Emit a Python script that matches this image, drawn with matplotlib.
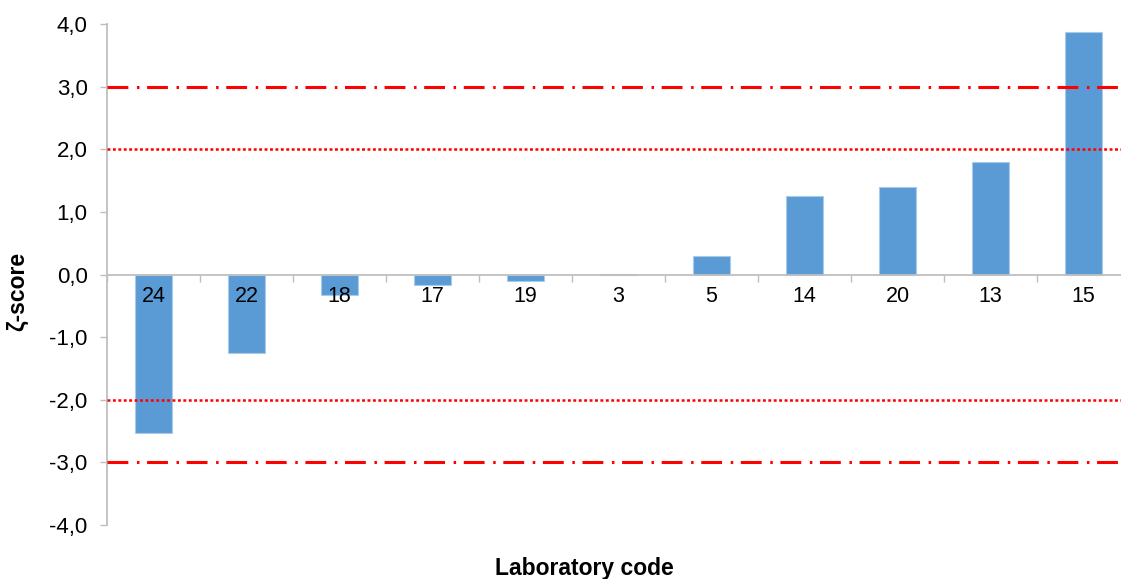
import matplotlib
matplotlib.use("Agg")
import matplotlib.pyplot as plt
import numpy as np

# zeta-scores per laboratory, sorted ascending
lab_codes = ["24", "22", "18", "17", "19", "3", "5", "14", "20", "13", "15"]
zeta = [-2.53, -1.25, -0.32, -0.16, -0.11, 0.01, 0.30, 1.26, 1.39, 1.80, 3.88]

warning_limits = [-2.0, 2.0]
action_limits = [-3.0, 3.0]
y_ticks = [-4, -3, -2, -1, 0, 1, 2, 3, 4]

plt.rcParams["font.family"] = ["Liberation Sans", "DejaVu Sans"]
plt.rcParams["lines.scale_dashes"] = False

fig = plt.figure(figsize=(11.21, 5.79), dpi=100)
ax = fig.add_axes([107 / 1121, 54 / 579, 1023 / 1121, 501 / 579])
ax.set_axisbelow(False)

x = np.arange(len(lab_codes))
ax.bar(x, zeta, width=0.4, color="#5B9BD5", edgecolor="#A9CBEA", linewidth=0.8, zorder=1)

for lim in action_limits:
    ax.axhline(lim, color="#FF0000", linewidth=2.2, dashes=(15, 6.2, 1.8, 5.5), zorder=3)
for lim in warning_limits:
    ax.axhline(lim, color="#FF0000", linewidth=1.8, dashes=(2.1, 1.8), zorder=3)

ax.set_xlim(-0.5, len(lab_codes) - 0.5)
ax.set_ylim(-4, 4)

# y axis with comma decimals
ax.set_yticks(y_ticks)
ax.set_yticklabels([f"{v:.1f}".replace(".", ",") for v in y_ticks], fontsize=16)
ax.tick_params(axis="y", direction="out", length=5, width=1, color="#BFBFBF", pad=9)

# category axis sits at zero, ticks between the bars
ax.spines["bottom"].set_position(("data", 0))
ax.set_xticks(x)
ax.set_xticklabels(lab_codes, fontsize=15.5)
ax.set_xticks(np.arange(len(lab_codes) + 1) - 0.5, minor=True)
ax.tick_params(axis="x", which="major", length=0, pad=8)
ax.tick_params(axis="x", which="minor", direction="out", length=5, width=1, color="#BFBFBF")

for side in ["top", "right"]:
    ax.spines[side].set_visible(False)
for side in ["left", "bottom"]:
    ax.spines[side].set_color("#BFBFBF")
    ax.spines[side].set_linewidth(1.3)

ax.set_xlabel("Laboratory code", fontsize=16.5, fontweight="bold")
ax.xaxis.set_label_coords(0.467, -0.086)
ax.xaxis.label.set_va("center")
ax.set_ylabel("ζ-score", fontsize=16.5, fontweight="bold")
ax.yaxis.set_label_coords(-0.088, 0.467)
ax.yaxis.label.set_va("center")

fig.savefig("out.png", dpi=100)
